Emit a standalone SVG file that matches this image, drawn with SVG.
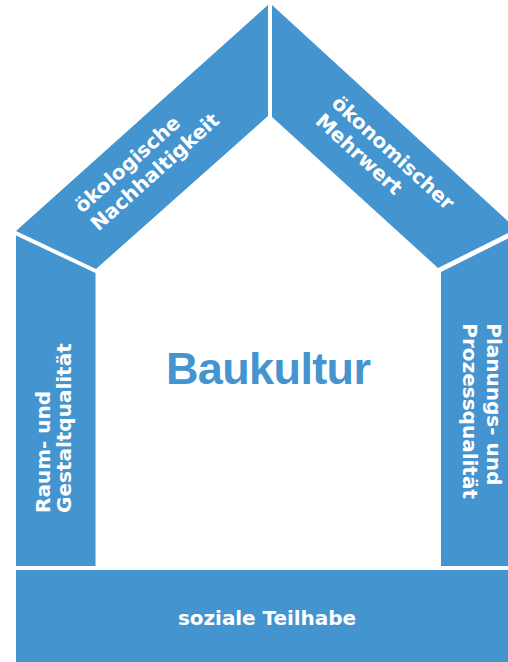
<svg xmlns="http://www.w3.org/2000/svg" width="508" height="662" viewBox="0 0 508 662">
<style>
.blk{fill:#4494cf}
.lbl{font-family:"DejaVu Sans",sans-serif;font-weight:bold;font-size:20px;fill:#fff}
.ttl{font-family:"Liberation Sans",Arial,sans-serif;font-weight:bold;font-size:45px;fill:#4494cf}
</style>
<rect width="508" height="662" fill="#fff"/>
<g id="roof-left">
<polygon class="blk" points="268,5 268,116 96,269 16,231"/>
<g transform="translate(82.2,214) rotate(-41.9)">
<text class="lbl" x="0" y="0">ökologische</text>
<text class="lbl" x="0" y="24">Nachhaltigkeit</text>
</g>
</g>
<g id="roof-right">
<polygon class="blk" points="272,5 516.3,228.8 438,268 272,117"/>
<g transform="translate(330.4,104.7) rotate(42.5)">
<text class="lbl" x="0" y="0">ökonomischer</text>
<text class="lbl" x="0" y="24">Mehrwert</text>
</g>
</g>
<g id="wall-left">
<polygon class="blk" points="16,235.5 95.5,273 95.5,566 16,566"/>
<g transform="translate(50,513) rotate(-90)">
<text class="lbl" x="0" y="0">Raum- und</text>
<text class="lbl" x="0" y="21">Gestaltqualität</text>
</g>
</g>
<g id="wall-right">
<polygon class="blk" points="441,272 530,227.5 530,566 441,566"/>
<g transform="translate(486.5,323.3) rotate(90)">
<text class="lbl" x="0" y="0">Planungs- und</text>
<text class="lbl" x="0" y="24">Prozessqualität</text>
</g>
</g>
<g id="base">
<rect class="blk" x="16" y="570" width="520" height="100"/>
<text class="lbl" x="267" y="625" text-anchor="middle" textLength="178">soziale Teilhabe</text>
</g>
<g id="center">
<text class="ttl" x="268.5" y="384" text-anchor="middle" textLength="205">Baukultur</text>
</g>
<g id="connectors"/>
</svg>
